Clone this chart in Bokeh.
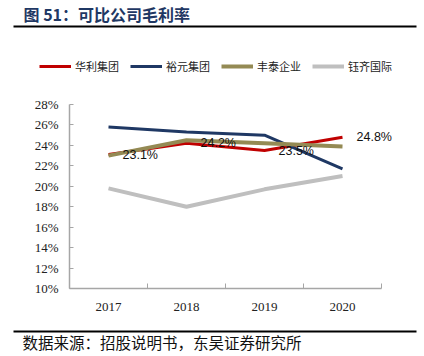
from bokeh.plotting import figure
from bokeh.models import (Legend, LegendItem, FixedTicker, ColumnDataSource, LabelSet, Range1d,
                          LinearAxis)
from bokeh.core.properties import value
from bokeh.embed import file_html
from bokeh.resources import INLINE

years = ["2017", "2018", "2019", "2020"]
huali = [23.1, 24.2, 23.5, 24.8]
yuyuan = [25.8, 25.3, 25.0, 21.7]
fengtai = [23.0, 24.5, 24.2, 23.9]
yuqi = [19.8, 18.0, 19.7, 21.0]
series_names = ["华利集团", "裕元集团", "丰泰企业", "钰齐国际"]
series_colors = ["#C00000", "#1F3864", "#948A54", "#BFBFBF"]
series_widths = [3, 3, 4, 4]
y_ticks = [10, 12, 14, 16, 18, 20, 22, 24, 26, 28]
title_text = "图 51：可比公司毛利率"
source_text = "数据来源：招股说明书，东吴证券研究所"

# canvas and plot-area geometry (pixels)
W, H = 420, 352
PX_L, PX_R = 69, 381      # x pixel of category band 0 and 4
PY_T, PY_B = 104, 288     # y pixel of 28% and 10%
YMIN, YMAX = y_ticks[0], y_ticks[-1]
NCAT = len(years)

sx = (PX_R - PX_L) / NCAT
sy = (PY_B - PY_T) / (YMAX - YMIN)
x_range = Range1d(-PX_L / sx, (W - PX_L) / sx)
y_range = Range1d(YMIN - (H - PY_B) / sy, YMAX + PY_T / sy)


def dx(px):
    return (px - PX_L) / sx


def dy(py):
    return YMAX + (PY_T - py) / sy


p = figure(width=W, height=H, x_range=x_range, y_range=y_range,
           output_backend="svg", toolbar_location=None, min_border=0)
p.outline_line_color = None
p.xgrid.grid_line_color = None
p.ygrid.grid_line_color = None

xs = [i + 0.5 for i in range(NCAT)]
axis_color = "#A6A6A6"

xa = p.xaxis[0]
xa.fixed_location = YMIN
xa.bounds = (0, NCAT)
xa.ticker = FixedTicker(ticks=xs, minor_ticks=list(range(NCAT + 1)))
xa.major_label_overrides = {x: y for x, y in zip(xs, years)}
xa.major_tick_line_color = None
xa.minor_tick_in = 5
xa.minor_tick_out = 0
xa.minor_tick_line_color = axis_color
xa.axis_line_color = axis_color
xa.axis_line_width = 1.5
xa.major_label_text_font = "Liberation Serif"
xa.major_label_text_font_size = "13px"
xa.major_label_text_color = "#222222"
xa.major_label_standoff = 8

ya = p.yaxis[0]
ya.fixed_location = 0
ya.bounds = (YMIN, YMAX)
ya.ticker = FixedTicker(ticks=y_ticks)
ya.major_label_overrides = {t: f"{t}%" for t in y_ticks}
ya.minor_tick_line_color = None
ya.major_tick_in = 4
ya.major_tick_out = 0
ya.major_tick_line_color = axis_color
ya.axis_line_color = axis_color
ya.axis_line_width = 1.5
ya.major_label_text_font = "Liberation Serif"
ya.major_label_text_font_size = "13px"
ya.major_label_text_color = "#222222"
ya.major_label_standoff = 11

renderers = []
for vals, col, w in zip([huali, yuyuan, fengtai, yuqi], series_colors, series_widths):
    renderers.append(p.line(xs, vals, line_color=col, line_width=w))

src = ColumnDataSource(dict(x=xs, y=huali, t=[f"{v:.1f}%" for v in huali]))
p.add_layout(LabelSet(x="x", y="y", text="t", source=src, x_offset=14,
                      text_baseline="middle", text_align="left",
                      text_font=value("Liberation Sans"), text_font_size="12.5px",
                      text_color="#111111"))

legend = Legend(items=[LegendItem(label=n, renderers=[r]) for n, r in zip(series_names, renderers)],
                orientation="horizontal", location=(39, H - 74),
                glyph_width=32, glyph_height=12, label_standoff=4, spacing=11,
                padding=0, margin=0, border_line_color=None, background_fill_alpha=0,
                label_text_font="Noto Sans CJK SC", label_text_font_size="11px",
                label_text_color="#222222", label_height=12)
p.add_layout(legend, "center")


def rule(py):
    ax = LinearAxis(fixed_location=dy(py), bounds=(dx(13), dx(416)),
                    ticker=FixedTicker(ticks=[]), axis_line_color="black", axis_line_width=2,
                    major_tick_line_color=None, minor_tick_line_color=None,
                    major_label_text_font_size="0px")
    p.add_layout(ax, "below")


# header: title and rule
p.text(x=[dx(23)], y=[dy(13)], text=[title_text], text_font=value("Noto Sans CJK SC"),
       text_font_size="16px", text_font_style="bold", text_color="#1F3864",
       text_baseline="middle", text_align="left")
rule(26)
# footer: rule and source
rule(331)
p.text(x=[dx(22)], y=[dy(341)], text=[source_text], text_font=value("Noto Sans CJK SC"),
       text_font_size="15.5px", text_color="#111111",
       text_baseline="middle", text_align="left")

open("out.html", "w").write(file_html(p, INLINE))
